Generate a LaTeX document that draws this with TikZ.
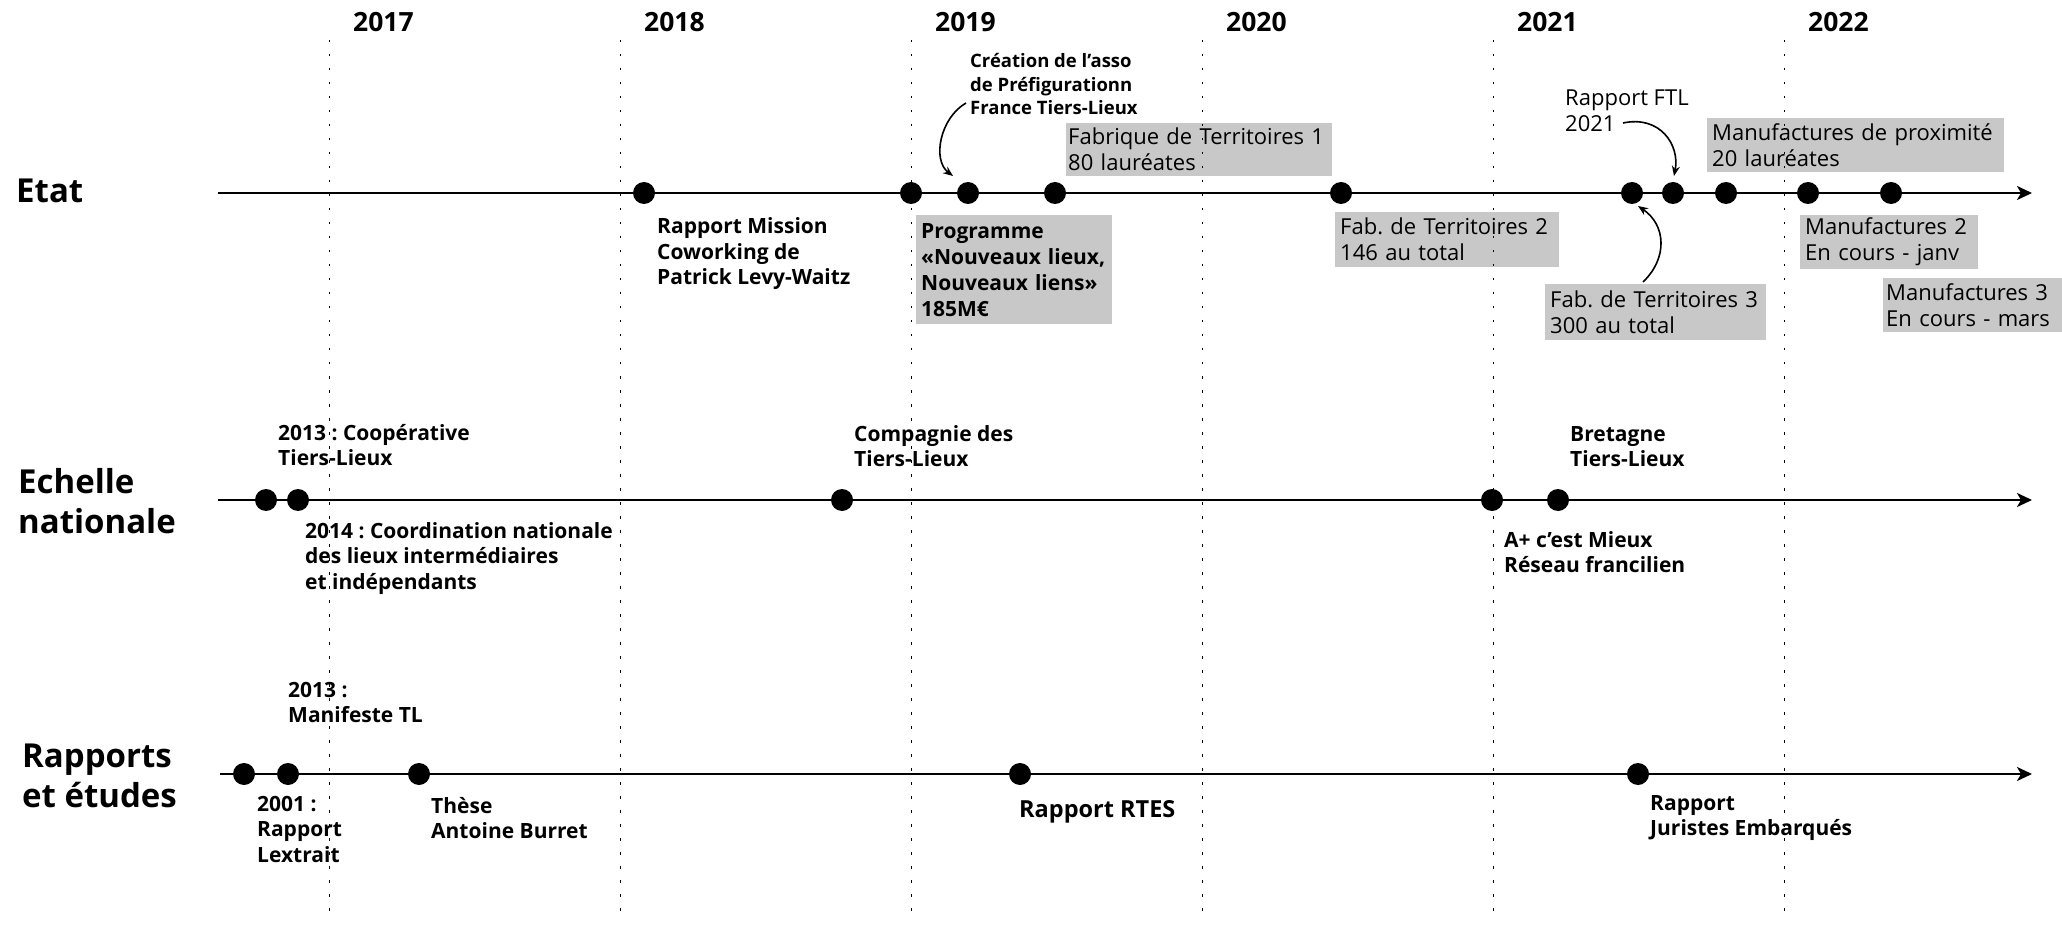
\documentclass[tikz,border=0pt]{standalone}
\usepackage{fontspec}
\setmainfont{Open Sans}
\usetikzlibrary{arrows.meta}
\definecolor{boxgray}{RGB}{200,200,200}
\begin{document}
\frenchspacing
\begin{tikzpicture}[x=1pt,y=-1pt,
  head/.style={anchor=base west, align=left, inner sep=0pt, font=\fontsize{33}{40}\selectfont\bfseries},
  year/.style={anchor=base west, inner sep=0pt, font=\fontsize{26.5}{30}\selectfont\bfseries},
  lab/.style={anchor=base west, align=left, inner sep=0pt, font=\fontsize{21}{25.5}\selectfont\bfseries},
  reg/.style={anchor=base west, align=left, inner sep=0pt, font=\fontsize{22}{26}\selectfont},
  gbox/.style={fill=boxgray, anchor=north west, align=left, inner xsep=5pt, inner ysep=0pt, font=\fontsize{22}{26}\selectfont},
  dot/.style={circle, fill=black, inner sep=0pt, minimum size=22pt},
  vline/.style={line width=1.4pt, dash pattern=on 2.5pt off 11.5pt},
  axis/.style={line width=2.2pt, -{Stealth[length=15pt,width=14pt,inset=4pt]}},
  arr/.style={line width=1.6pt, -{Stealth[length=10pt,width=8pt]}}
]
\useasboundingbox (0,0) rectangle (2062,925);

% row headings (base = baseline of last line)
\node[head] (hetat) at (16,203) {Etat};
\node[head] (hech) at (18,533) {Echelle\\nationale};
\node[head] (hrap) at (22,807) {Rapports\\et études};

% years
\node[year] (y2017) at (353,32) {2017};
\node[year] (y2018) at (644,32) {2018};
\node[year] (y2019) at (935,32) {2019};
\node[year] (y2020) at (1226,32) {2020};
\node[year] (y2021) at (1517,32) {2021};
\node[year] (y2022) at (1808,32) {2022};

% Etat labels
\node[lab] (lrm) at (657,285) {Rapport Mission\\Coworking de\\Patrick Levy-Waitz};
\node[gbox, font=\fontsize{21}{26}\selectfont\bfseries, text width=186pt, minimum height=109pt] (lprog) at (916,215) {\mbox{Programme}\\\mbox{«Nouveaux lieux,}\\\mbox{Nouveaux liens»}\\185M€};
\node[lab, font=\fontsize{18.5}{23.5}\selectfont\bfseries] (lcrea) at (970,115) {Création de l’asso\\de Préfigurationn\\France Tiers-Lieux};
\node[gbox, inner xsep=2pt, text width=262pt, minimum height=53pt] (lfab1) at (1066,123) {\mbox{Fabrique de Territoires 1}\\80 lauréates};
\node[gbox, text width=214pt, minimum height=55pt] (lfab2) at (1335,212) {\mbox{Fab. de Territoires 2}\\146 au total};
\node[reg] (lftl) at (1565,132) {Rapport FTL\\2021};
\node[gbox, text width=287pt, minimum height=54pt] (lmprox) at (1707,118) {\mbox{Manufactures de proximité}\\20 lauréates};
\node[gbox, text width=211pt, minimum height=56pt] (lfab3) at (1545,284) {\mbox{Fab. de Territoires 3}\\300 au total};
\node[gbox, text width=168pt, minimum height=54pt] (lman2) at (1800,215) {\mbox{Manufactures 2}\\\mbox{En cours - janv}};
\node[gbox, inner xsep=3pt, text width=173pt, minimum height=54pt] (lman3) at (1883,278) {\mbox{Manufactures 3}\\\mbox{En cours - mars}};

% Echelle nationale labels
\node[lab] (lcoop) at (278,465.5) {2013 : Coopérative\\Tiers-Lieux};
\node[lab] (lcoord) at (305,589) {2014 : Coordination nationale\\des lieux intermédiaires\\et indépendants};
\node[lab] (lcomp) at (854,466.5) {Compagnie des\\Tiers-Lieux};
\node[lab] (lbret) at (1570,466.5) {Bretagne\\Tiers-Lieux};
\node[lab] (laplus) at (1504,572.5) {A+ c’est Mieux\\Réseau francilien};

% Rapports labels
\node[lab] (lmanif) at (288,722.5) {2013 :\\Manifeste TL};
\node[lab] (llex) at (257,862) {2001 :\\Rapport\\Lextrait};
\node[lab] (lthese) at (431,838.5) {Thèse\\Antoine Burret};
\node[lab, font=\fontsize{23.5}{28}\selectfont\bfseries] (lrtes) at (1019,817) {Rapport RTES};
\node[lab] (ljur) at (1650,835.5) {Rapport\\Juristes Embarqués};

% year separators
\foreach \i/\x in {1/329.5,2/620.5,3/911.5,4/1202.5,5/1493.5,6/1784.5}{
  \coordinate (vt\i) at (\x,40);
  \coordinate (vb\i) at (\x,920);
  \draw[vline] (vt\i) -- (vb\i);
}

% axes
\coordinate (ea0) at (218,193); \coordinate (ea1) at (2032,193);
\coordinate (na0) at (218,500); \coordinate (na1) at (2032,500);
\coordinate (ra0) at (220,774); \coordinate (ra1) at (2032,774);
\draw[axis] (ea0) -- (ea1);
\draw[axis] (na0) -- (na1);
\draw[axis] (ra0) -- (ra1);

% dots
\foreach \n/\x in {e1/644,e2/911,e3/968,e4/1055,e5/1341,e6/1632,e7/1673,e8/1726,e9/1808,e10/1891}
  \node[dot] (\n) at (\x,193) {};
\foreach \n/\x in {n1/266,n2/298,n3/842,n4/1492,n5/1558}
  \node[dot] (\n) at (\x,500) {};
\foreach \n/\x in {r1/244,r2/288,r3/419,r4/1020,r5/1638}
  \node[dot] (\n) at (\x,774) {};

% curved arrows
\coordinate (c1s) at (966,103); \coordinate (c1e) at (953,176);
\draw[arr] (c1s) .. controls (940,118) and (932,160) .. (c1e);
\coordinate (c2s) at (1623,123); \coordinate (c2e) at (1674,176);
\draw[arr] (c2s) .. controls (1660,115) and (1680,145) .. (c2e);
\coordinate (c3s) at (1643,282); \coordinate (c3e) at (1638,206);
\draw[arr] (c3s) .. controls (1668,258) and (1666,225) .. (c3e);
\end{tikzpicture}
\end{document}
